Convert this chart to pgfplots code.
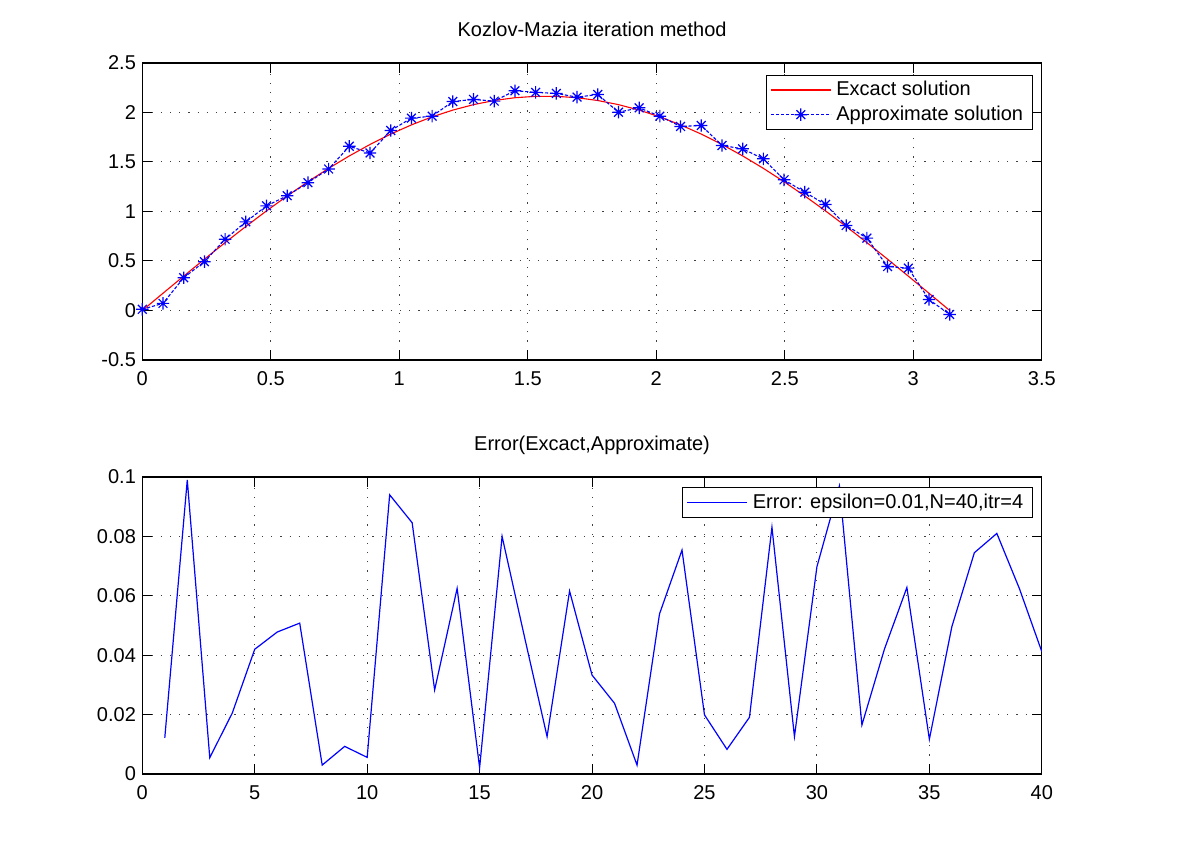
\documentclass[border=0pt]{standalone}
\usepackage{fontspec}
\setmainfont{Liberation Sans}
\usepackage{pgfplots}
\usepackage{pgfplotstable}
\pgfplotsset{compat=1.18}
\definecolor{mblue}{rgb}{0,0,1}
\definecolor{mred}{rgb}{1,0,0}

\pgfdeclareplotmark{mstar}{%
  \pgfpathmoveto{\pgfqpoint{-\pgfplotmarksize}{0pt}}%
  \pgfpathlineto{\pgfqpoint{\pgfplotmarksize}{0pt}}%
  \pgfpathmoveto{\pgfqpoint{0pt}{-\pgfplotmarksize}}%
  \pgfpathlineto{\pgfqpoint{0pt}{\pgfplotmarksize}}%
  \pgfpathmoveto{\pgfqpoint{-0.7071\pgfplotmarksize}{-0.7071\pgfplotmarksize}}%
  \pgfpathlineto{\pgfqpoint{0.7071\pgfplotmarksize}{0.7071\pgfplotmarksize}}%
  \pgfpathmoveto{\pgfqpoint{-0.7071\pgfplotmarksize}{0.7071\pgfplotmarksize}}%
  \pgfpathlineto{\pgfqpoint{0.7071\pgfplotmarksize}{-0.7071\pgfplotmarksize}}%
  \pgfusepathqstroke}

\pgfplotstableread{
x exact approx
0.00000 0.0000 0.012
0.08055 0.1742 0.072
0.16111 0.3473 0.331
0.24166 0.5181 0.493
0.32222 0.6856 0.720
0.40277 0.8486 0.895
0.48332 1.0061 1.057
0.56388 1.1571 1.159
0.64443 1.3006 1.291
0.72499 1.4357 1.429
0.80554 1.5614 1.659
0.88609 1.6770 1.591
0.96665 1.7818 1.818
1.04720 1.8749 1.943
1.12776 1.9560 1.963
1.20831 2.0243 2.111
1.28886 2.0795 2.132
1.36942 2.1212 2.115
1.44997 2.1492 2.220
1.53053 2.1633 2.203
1.61108 2.1633 2.193
1.69164 2.1492 2.155
1.77219 2.1212 2.182
1.85274 2.0795 2.003
1.93330 2.0243 2.047
2.01385 1.9560 1.963
2.09440 1.8749 1.859
2.17496 1.7818 1.869
2.25551 1.6770 1.667
2.33607 1.5614 1.633
2.41662 1.4357 1.532
2.49717 1.3006 1.320
2.57773 1.1571 1.195
2.65828 1.0061 1.071
2.73884 0.8486 0.859
2.81939 0.6856 0.731
2.89994 0.5181 0.444
2.98050 0.3473 0.428
3.06105 0.1742 0.111
3.14159 0.0000 -0.040
}\soltable

\pgfplotstableread{
i err
1 0.0122
2 0.0990
3 0.0055
4 0.0205
5 0.0420
6 0.0478
7 0.0508
8 0.0030
9 0.0093
10 0.0056
11 0.0940
12 0.0846
13 0.0283
14 0.0625
15 0.0021
16 0.0800
17 0.0460
18 0.0126
19 0.0616
20 0.0333
21 0.0238
22 0.0030
23 0.0539
24 0.0754
25 0.0199
26 0.0083
27 0.0191
28 0.0831
29 0.0126
30 0.0698
31 0.0970
32 0.0165
33 0.0420
34 0.0628
35 0.0117
36 0.0496
37 0.0745
38 0.0810
39 0.0625
40 0.0412
}\errtable

\pgfplotsset{
  mstyle/.style={
    scale only axis,
    width=449.75pt, height=148.5pt,
    anchor=south west,
    /pgf/number format/assume math mode=true,
    font=\fontsize{10}{12}\selectfont,
    tick label style={font=\fontsize{10}{12}\selectfont},
    xticklabel style={inner sep=0pt, yshift=-5.5pt},
    yticklabel style={inner sep=0pt, xshift=-3pt},
    axis line style={black, line width=0.65pt},
    tick style={black, line width=0.5pt},
    major tick length=5pt,
    tick align=inside,
    xtick pos=both, ytick pos=both,
    grid=major,
    major grid style={black!75, line width=0.5pt, dash pattern=on 0.6pt off 4pt},
    title style={at={(0.5,1)}, anchor=base, yshift=7.2pt, inner sep=0pt,
                 font=\fontsize{10}{12}\selectfont},
    legend cell align=left,
    legend image code/.code={%
      \draw[mark repeat=2,mark phase=2,##1] plot coordinates {(3pt,0pt) (18pt,0pt) (33pt,0pt)};},
    legend style={draw=black, line width=0.65pt, fill=white,
      font=\fontsize{10}{12}\selectfont,
      inner xsep=2pt, inner ysep=1.2pt, row sep=0pt,
      nodes={inner xsep=2.5pt, inner ysep=1.8pt}},
  }
}

\begin{document}
\begin{tikzpicture}
\path[use as bounding box] (0,0) rectangle (600pt,428.5pt);

\begin{axis}[mstyle,
  at={(71.15pt,248.5pt)},
  xmin=0, xmax=3.5, ymin=-0.5, ymax=2.5,
  xtick={0,0.5,1,1.5,2,2.5,3,3.5},
  xticklabels={0,0.5,1,1.5,2,2.5,3,3.5},
  ytick={-0.5,0,0.5,1,1.5,2,2.5},
  yticklabels={-0.5,0,0.5,1,1.5,2,2.5},
  title={Kozlov-Mazia iteration method},
  legend style={at={(0.990,0.961)}, anchor=north east},
]
\addplot[mred, line width=0.55pt, no markers] table[x=x, y=exact] {\soltable};
\addlegendentry{Excact solution}
\addplot[mblue, line width=0.55pt, dash pattern=on 1.6pt off 0.9pt, mark=mstar, mark size=3.1pt,
  mark options={solid, line width=0.6pt}] table[x=x, y=approx] {\soltable};
\addlegendentry{Approximate solution}
\end{axis}

\begin{axis}[mstyle,
  at={(71.15pt,41.5pt)},
  xmin=0, xmax=40, ymin=0, ymax=0.1,
  xtick={0,5,10,15,20,25,30,35,40},
  xticklabels={0,5,10,15,20,25,30,35,40},
  ytick={0,0.02,0.04,0.06,0.08,0.1},
  yticklabels={0,0.02,0.04,0.06,0.08,0.1},
  title={Error(Excact,Approximate)},
  legend style={at={(0.990,0.966)}, anchor=north east},
]
\addplot[mblue, line width=0.6pt, no markers] table[x=i, y=err] {\errtable};
\addlegendentry{Error: epsilon=0.01,N=40,itr=4}
\end{axis}
\end{tikzpicture}
\end{document}
